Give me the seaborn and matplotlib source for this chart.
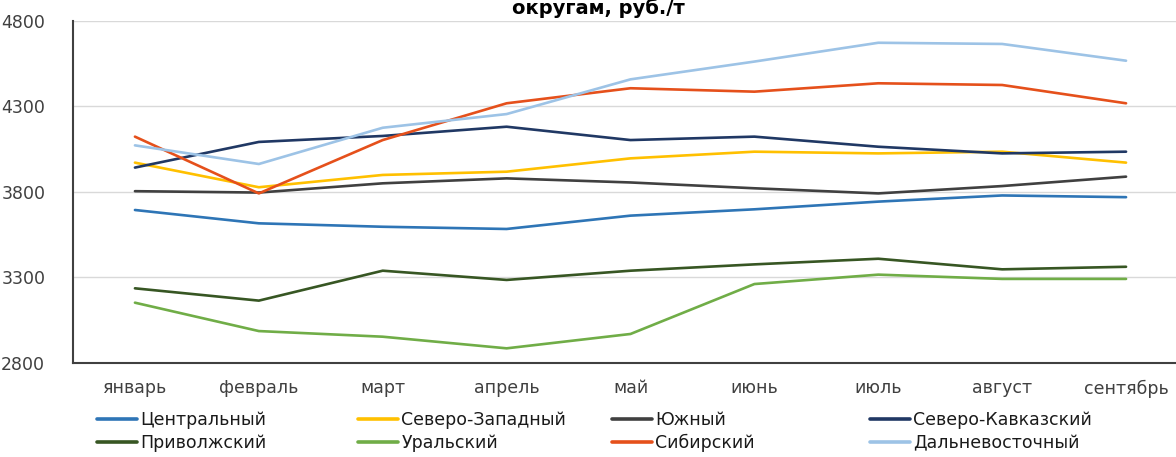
import matplotlib
matplotlib.use("Agg")
import numpy as np
import pandas as pd
import matplotlib.pyplot as plt
import seaborn as sns

# months (x categories)
months = ["январь", "февраль", "март", "апрель", "май", "июнь", "июль", "август", "сентябрь"]

# prices by federal district, rub/t
central = [3693, 3615, 3595, 3582, 3660, 3697, 3742, 3778, 3768]
northwest = [3970, 3826, 3898, 3917, 3995, 4034, 4024, 4034, 3970]
south = [3803, 3795, 3849, 3878, 3854, 3820, 3790, 3833, 3888]
north_caucasus = [3941, 4091, 4126, 4180, 4102, 4122, 4063, 4024, 4034]
volga = [3235, 3163, 3338, 3284, 3338, 3375, 3408, 3346, 3361]
ural = [3151, 2985, 2952, 2884, 2968, 3260, 3315, 3290, 3290]
siberia = [4122, 3790, 4102, 4317, 4405, 4385, 4434, 4424, 4317]
far_east = [4071, 3962, 4174, 4254, 4457, 4561, 4671, 4664, 4566]

regions = ["Центральный", "Северо-Западный", "Южный", "Северо-Кавказский",
           "Приволжский", "Уральский", "Сибирский", "Дальневосточный"]
colors = ["#2E75B6", "#FFC000", "#404040", "#203864",
          "#375623", "#70AD47", "#E5501B", "#9DC3E6"]

series = [central, northwest, south, north_caucasus, volga, ural, siberia, far_east]
df = pd.DataFrame([(r, m, v) for r, vals in zip(regions, series) for m, v in zip(months, vals)],
                  columns=["region", "month", "price"])

sns.set_style("white")
plt.rcParams["font.family"] = ["DejaVu Sans"]

fig = plt.figure(figsize=(11.76, 4.57), dpi=100)
ax = fig.add_axes([73 / 1176, 1 - 362.7 / 457, 1115 / 1176, (362.7 - 20.7) / 457])

sns.lineplot(data=df, x="month", y="price", hue="region", hue_order=regions,
             palette=dict(zip(regions, colors)), linewidth=1.9, sort=False, ax=ax)

leg = ax.get_legend()
handles = leg.legend_handles
labels = [t.get_text() for t in leg.get_texts()]
leg.remove()

ax.set_xlim(-0.5, 8.5)
ax.set_ylim(2800, 4800)
ax.set_yticks([2800, 3300, 3800, 4300, 4800])
ax.set_xticks(np.arange(0.5, 8.5, 1), minor=True)
ax.yaxis.grid(True, color="#D9D9D9", lw=1)
ax.set_axisbelow(True)
ax.set_xlabel("")
ax.set_ylabel("")

ax.tick_params(axis="x", which="major", length=0, pad=12, labelsize=12.5, colors="#404040")
ax.tick_params(axis="x", which="minor", length=6, direction="in", width=1.2, color="#404040")
ax.tick_params(axis="y", length=0, pad=20, labelsize=12.5, colors="#404040")

for s in ["top", "right"]:
    ax.spines[s].set_visible(False)
for s in ["left", "bottom"]:
    ax.spines[s].set_color("#404040")
    ax.spines[s].set_linewidth(1.5)

# title (first line is cut off in the reference)
fig.text(598 / 1176, 1 - 13.5 / 457, "округам, руб./т", ha="center", va="baseline",
         fontsize=14, fontweight="bold", color="black")

# legend: 4 columns x 2 rows
col_x = [97, 358, 612, 870]
for i, x in enumerate(col_x):
    hs = [handles[i], handles[i + 4]]
    for h in hs:
        h.set_linewidth(2.6)
    fig.legend(hs, [labels[i], labels[i + 4]], loc="upper left",
               bbox_to_anchor=(x / 1176, 1 - 411 / 457), frameon=False,
               fontsize=12.5, handlelength=2.3, handletextpad=0.2,
               borderpad=0, borderaxespad=0, labelspacing=0.3,
               labelcolor="#1a1a1a")

fig.savefig("out.png", dpi=100)
